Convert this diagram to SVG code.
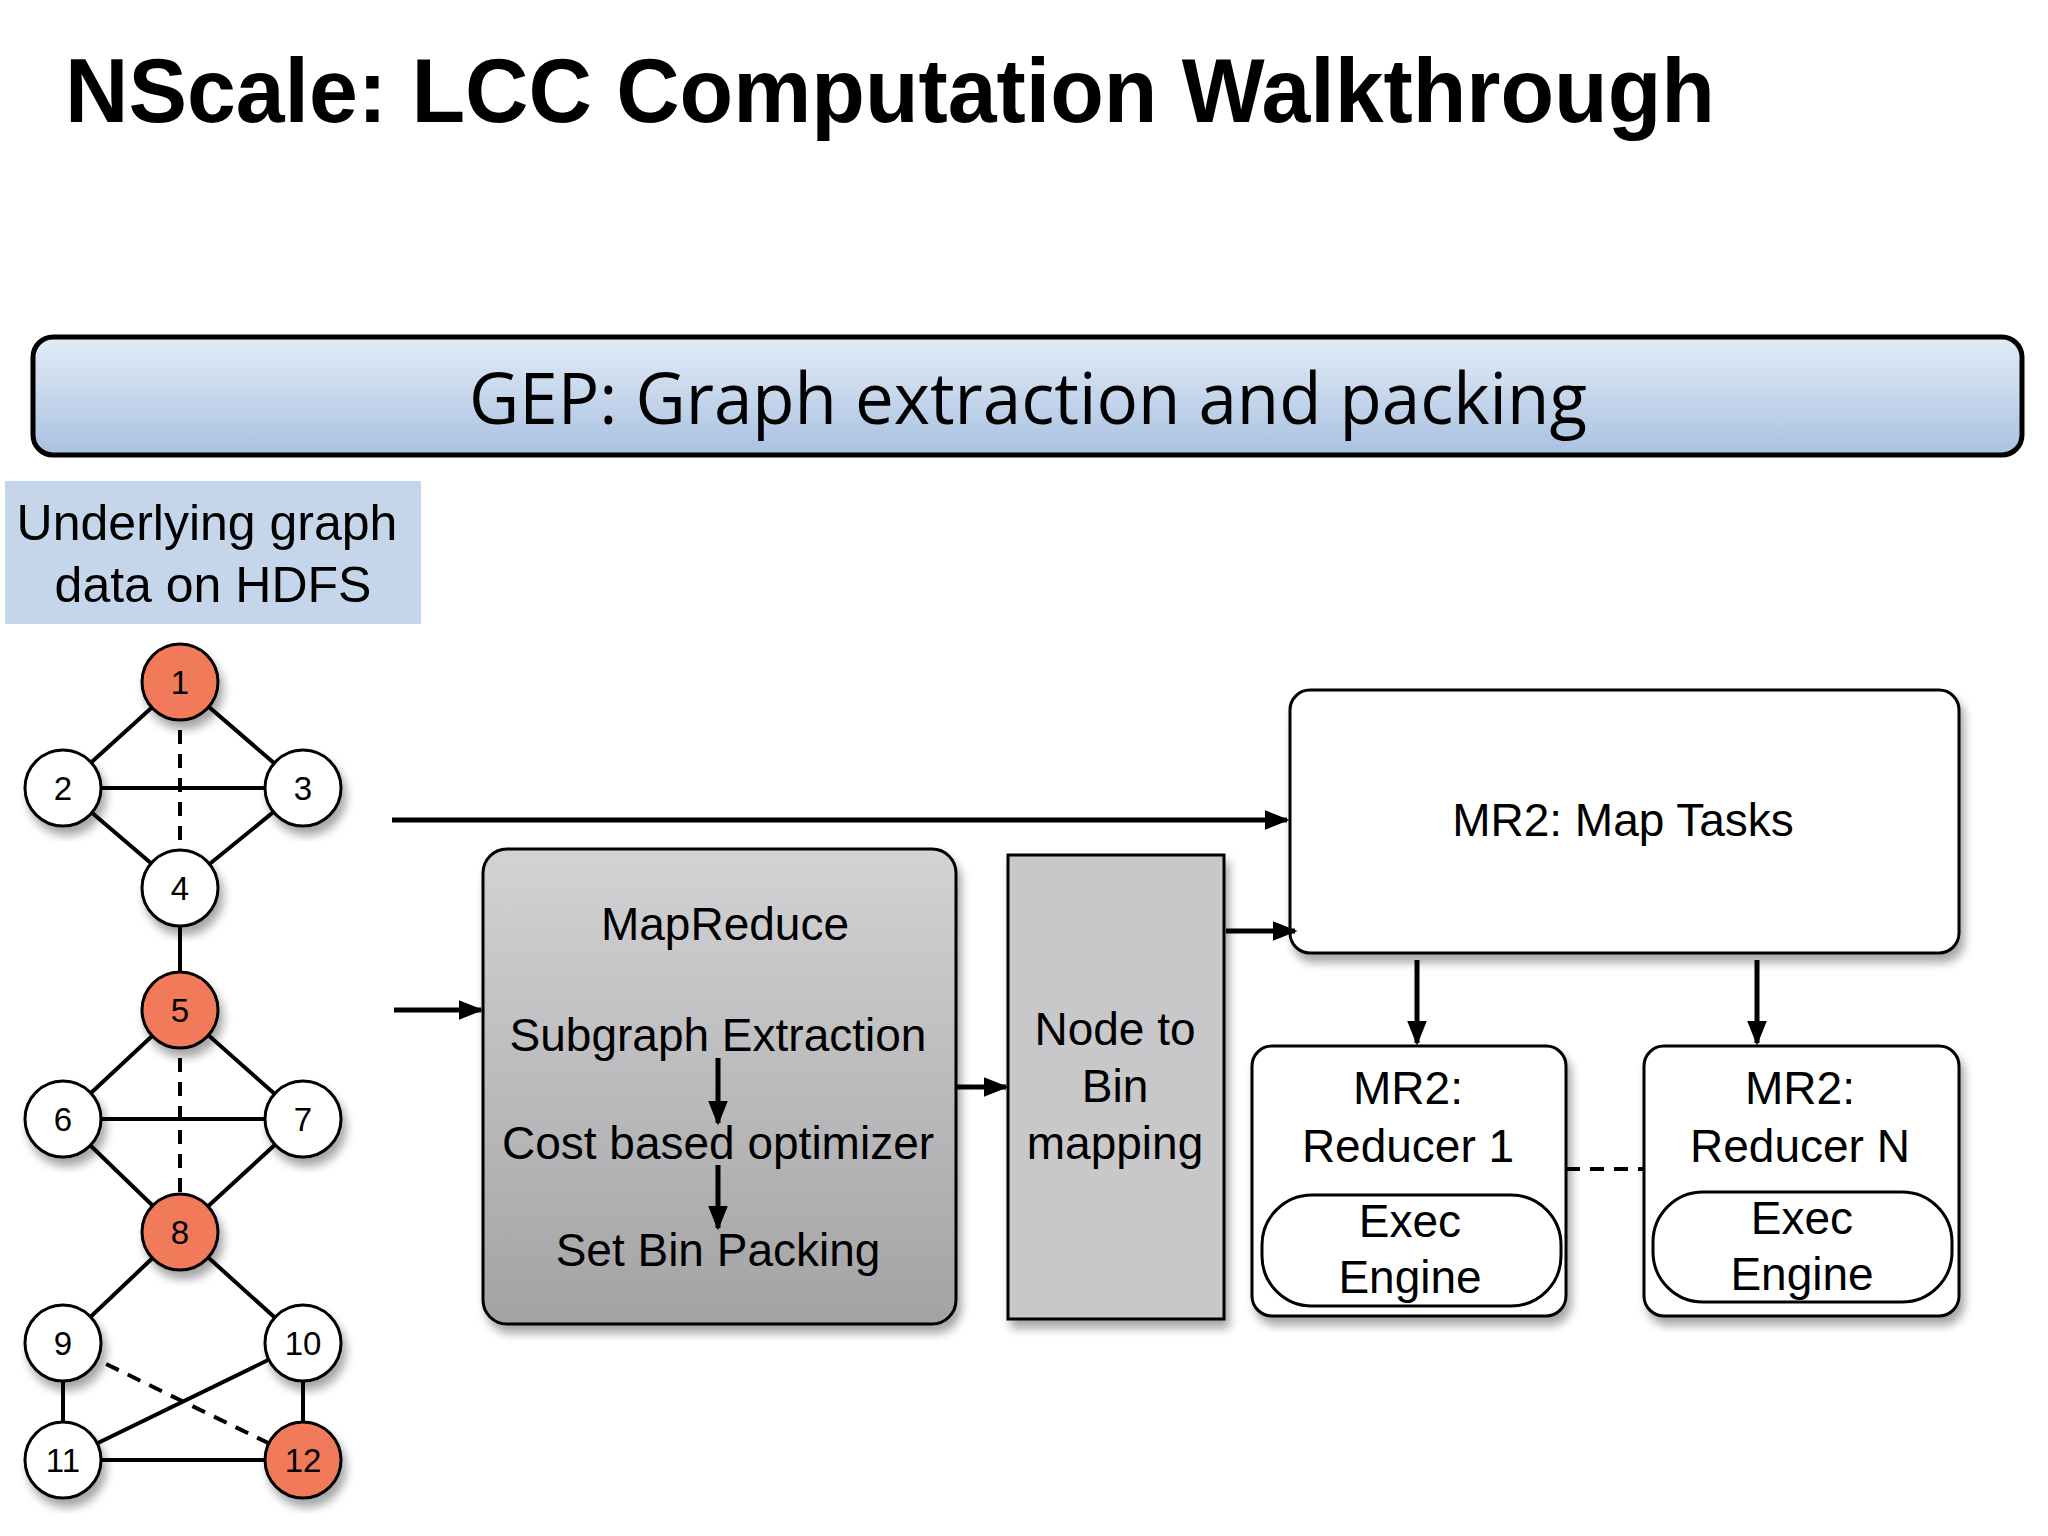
<svg xmlns="http://www.w3.org/2000/svg" width="2048" height="1536" viewBox="0 0 2048 1536">
<defs>
<linearGradient id="gep" x1="0" y1="0" x2="0" y2="1"><stop offset="0" stop-color="#e3ecf7"/><stop offset="1" stop-color="#a9c1e0"/></linearGradient>
<linearGradient id="mr" x1="0" y1="0" x2="0" y2="1"><stop offset="0" stop-color="#d3d2d5"/><stop offset="1" stop-color="#a3a2a5"/></linearGradient>
<filter id="sh" x="-20%" y="-20%" width="140%" height="140%"><feDropShadow dx="4" dy="8" stdDeviation="5" flood-color="#000" flood-opacity="0.35"/></filter>
<marker id="ah" viewBox="0 0 10 10" refX="9" refY="5" markerWidth="5" markerHeight="5" orient="auto" markerUnits="strokeWidth"><path d="M0,1 L10,5 L0,9 z" fill="#000"/></marker>
<style>
text{font-family:"Liberation Sans",Arial,sans-serif;fill:#000}
.e{stroke:#000;stroke-width:4;fill:none}
.d{stroke-dasharray:14 10}
.n circle{stroke:#000;stroke-width:3;filter:url(#sh)}
.n text{font-size:33px;text-anchor:middle}
.w{fill:#fff}.o{fill:#f07a5a}
.a{stroke:#000;stroke-width:5;fill:none;marker-end:url(#ah)}
.lbl{font-size:46px;text-anchor:middle}
</style>
</defs>
<rect width="2048" height="1536" fill="#fff"/>
<text x="65" y="122" font-family="'Open Sans',sans-serif" font-weight="bold" font-size="90" textLength="1650" lengthAdjust="spacingAndGlyphs">NScale: LCC Computation Walkthrough</text>
<g id="gep-bar"><rect x="33" y="337" width="1989" height="118" rx="20" fill="url(#gep)" stroke="#000" stroke-width="5"/>
<text x="1028" y="424" font-family="'Open Sans',sans-serif" font-size="72" text-anchor="middle" style="font-family:'Open Sans',sans-serif" textLength="1118" lengthAdjust="spacingAndGlyphs">GEP: Graph extraction and packing</text></g>
<g id="hdfs"><rect x="5" y="481" width="416" height="143" fill="#c5d6ea"/>
<text x="207" y="540" font-size="50" text-anchor="middle">Underlying graph</text><text x="213" y="602" font-size="50" text-anchor="middle">data on HDFS</text></g>
<g id="graph-edges">
<path class="e" d="M180,682L63,788M180,682L303,788M63,788L303,788M63,788L180,888M303,788L180,888M180,888L180,1010M180,1010L63,1119M180,1010L303,1119M63,1119L303,1119M63,1119L180,1232M303,1119L180,1232M180,1232L63,1343M180,1232L303,1343M63,1343L63,1460M303,1343L303,1460M63,1460L303,1460M63,1460L303,1343"/>
<path class="e d" d="M180,682L180,888M180,1010L180,1232M63,1343L303,1460"/>
</g>
<g id="n1" class="n"><circle class="o" cx="180" cy="682" r="38"/><text x="180" y="694">1</text></g>
<g id="n2" class="n"><circle class="w" cx="63" cy="788" r="38"/><text x="63" y="800">2</text></g>
<g id="n3" class="n"><circle class="w" cx="303" cy="788" r="38"/><text x="303" y="800">3</text></g>
<g id="n4" class="n"><circle class="w" cx="180" cy="888" r="38"/><text x="180" y="900">4</text></g>
<g id="n5" class="n"><circle class="o" cx="180" cy="1010" r="38"/><text x="180" y="1022">5</text></g>
<g id="n6" class="n"><circle class="w" cx="63" cy="1119" r="38"/><text x="63" y="1131">6</text></g>
<g id="n7" class="n"><circle class="w" cx="303" cy="1119" r="38"/><text x="303" y="1131">7</text></g>
<g id="n8" class="n"><circle class="o" cx="180" cy="1232" r="38"/><text x="180" y="1244">8</text></g>
<g id="n9" class="n"><circle class="w" cx="63" cy="1343" r="38"/><text x="63" y="1355">9</text></g>
<g id="n10" class="n"><circle class="w" cx="303" cy="1343" r="38"/><text x="303" y="1355">10</text></g>
<g id="n11" class="n"><circle class="w" cx="63" cy="1460" r="38"/><text x="63" y="1472">11</text></g>
<g id="n12" class="n"><circle class="o" cx="303" cy="1460" r="38"/><text x="303" y="1472">12</text></g>
<g id="mapreduce"><rect x="483" y="849" width="473" height="475" rx="24" fill="url(#mr)" stroke="#000" stroke-width="3" filter="url(#sh)"/>
<text class="lbl" x="725" y="940">MapReduce</text><text class="lbl" x="718" y="1051">Subgraph Extraction</text><text class="lbl" x="718" y="1159">Cost based optimizer</text><text class="lbl" x="718" y="1266">Set Bin Packing</text></g>
<g id="bin"><rect x="1008" y="855" width="216" height="464" fill="#c8c7ca" stroke="#000" stroke-width="3" filter="url(#sh)"/>
<text class="lbl" x="1115" y="1045">Node to</text><text class="lbl" x="1115" y="1102">Bin</text><text class="lbl" x="1115" y="1159">mapping</text></g>
<g id="map"><rect x="1290" y="690" width="669" height="263" rx="20" fill="#fff" stroke="#000" stroke-width="3" filter="url(#sh)"/>
<text class="lbl" x="1623" y="836">MR2: Map Tasks</text></g>
<g id="red1"><rect x="1252" y="1046" width="314" height="270" rx="20" fill="#fff" stroke="#000" stroke-width="3" filter="url(#sh)"/>
<text class="lbl" x="1408" y="1104">MR2:</text><text class="lbl" x="1408" y="1162">Reducer 1</text>
<rect x="1262" y="1195" width="299" height="111" rx="50" fill="#fff" stroke="#000" stroke-width="3"/>
<text class="lbl" x="1410" y="1237">Exec</text><text class="lbl" x="1410" y="1293">Engine</text></g>
<g id="redN"><rect x="1644" y="1046" width="315" height="270" rx="20" fill="#fff" stroke="#000" stroke-width="3" filter="url(#sh)"/>
<text class="lbl" x="1800" y="1104">MR2:</text><text class="lbl" x="1800" y="1162">Reducer N</text>
<rect x="1653" y="1192" width="299" height="110" rx="50" fill="#fff" stroke="#000" stroke-width="3"/>
<text class="lbl" x="1802" y="1234">Exec</text><text class="lbl" x="1802" y="1290">Engine</text></g>
<g id="connectors">
<path class="a" d="M392,820H1287"/>
<path class="a" d="M394,1010H481"/>
<path class="a" d="M718,1058V1123"/>
<path class="a" d="M718,1165V1228"/>
<path class="a" d="M956,1087H1006"/>
<path class="a" d="M1226,931H1295"/>
<path class="a" d="M1417,960V1043"/>
<path class="a" d="M1757,960V1043"/>
<path class="e d" d="M1566,1169H1644" stroke-width="5"/>
</g>
</svg>
